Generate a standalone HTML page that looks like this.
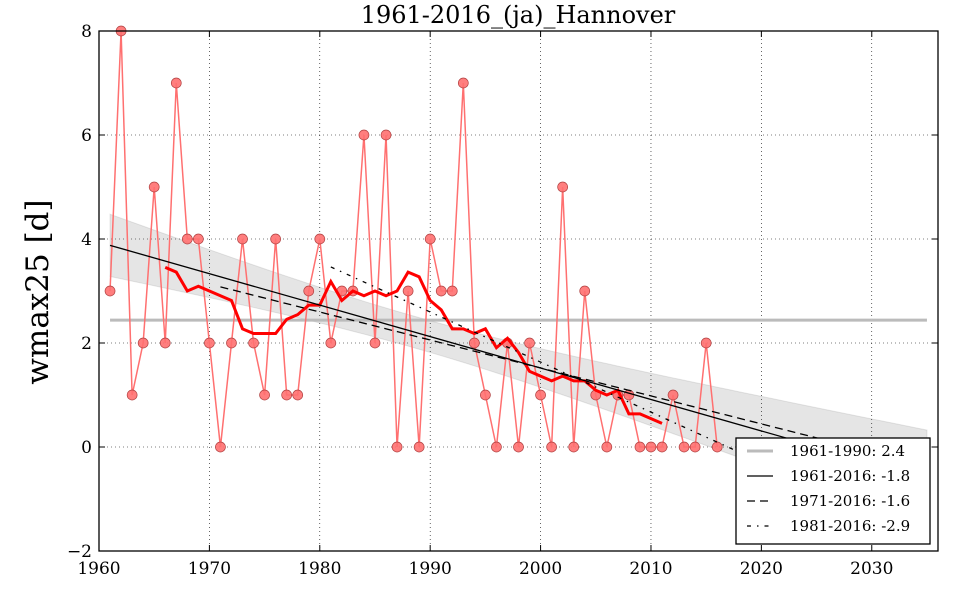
<!DOCTYPE html><html><head><style>body{margin:0;background:#fff}svg{display:block;font-family:"DejaVu Serif","Liberation Serif",serif}</style></head><body>
<svg id="s" width="960" height="600" xmlns="http://www.w3.org/2000/svg"></svg>
<script>
const X0=99,X1=938,Y0=31,Y1=551;
const sx=y=>X0+(y-1960)*(X1-X0)/76, sy=v=>447-v*52;
const d=[3,8,1,2,5,2,7,4,4,2,0,2,4,2,1,4,1,1,3,4,2,3,3,6,2,6,0,3,0,4,3,3,7,2,1,0,2,0,2,1,0,5,0,3,1,0,1,1,0,0,0,1,0,0,2,0];
const yr=d.map((_,i)=>1961+i);
let h='';
h+='<rect x="'+X0+'" y="'+Y0+'" width="'+(X1-X0)+'" height="'+(Y1-Y0)+'" fill="#fff"/>';
function reg(a){const xs=[],ys=[];yr.forEach((y,i)=>{if(y>=a){xs.push(y);ys.push(d[i]);}});const n=xs.length,mx=xs.reduce((p,c)=>p+c)/n,my=ys.reduce((p,c)=>p+c)/n;let sxy=0,sxx=0;xs.forEach((x,i)=>{sxy+=(x-mx)*(ys[i]-my);sxx+=(x-mx)**2});const b=sxy/sxx;return{b,a:my-b*mx,mx,sxx,n};}
const r=reg(1961);let up=[],lo=[];
for(let x=1961;x<=2035;x+=1){const f=r.a+r.b*x,hw=2.27*Math.sqrt(1/r.n+(x-r.mx)**2/r.sxx);up.push(sx(x)+','+sy(f+hw));lo.unshift(sx(x)+','+sy(f-hw));}
h+='<polygon points="'+up.join(' ')+' '+lo.join(' ')+'" fill="#000" fill-opacity="0.1" stroke="#888" stroke-opacity="0.2"/>';
for(let x=1970;x<=2030;x+=10)h+='<line x1="'+sx(x)+'" x2="'+sx(x)+'" y1="'+Y0+'" y2="'+Y1+'" stroke="#000" stroke-dasharray="1,3" stroke-width="0.6"/>';
for(let v=0;v<=6;v+=2)h+='<line x1="'+X0+'" x2="'+X1+'" y1="'+sy(v)+'" y2="'+sy(v)+'" stroke="#000" stroke-dasharray="1,3" stroke-width="0.6"/>';
h+='<line x1="'+sx(1961)+'" x2="'+sx(2035)+'" y1="'+sy(2.44)+'" y2="'+sy(2.44)+'" stroke="#bbb" stroke-width="3"/>';
h+='<polyline fill="none" stroke="#ff7070" stroke-width="1.5" points="'+d.map((v,i)=>sx(yr[i])+','+sy(v)).join(' ')+'"/>';
d.forEach((v,i)=>h+='<circle cx="'+sx(yr[i])+'" cy="'+sy(v)+'" r="5" fill="#ff7070" stroke="#b04040" stroke-width="0.7" fill-opacity="0.9"/>');
let ma=[];for(let i=5;i<d.length-5;i++){let s=0;for(let j=i-5;j<=i+5;j++)s+=d[j];ma.push(sx(yr[i])+','+sy(s/11));}
h+='<polyline fill="none" stroke="#f00" stroke-width="3" points="'+ma.join(' ')+'"/>';
const DA=['','8,5','4,6,1.5,6'];
[1961,1971,1981].forEach((a,k)=>{const q=reg(a);const e=2035;h+='<line x1="'+sx(a)+'" y1="'+sy(q.a+q.b*a)+'" x2="'+sx(e)+'" y2="'+sy(q.a+q.b*e)+'" stroke="#000" stroke-width="1.3" '+(DA[k]?'stroke-dasharray="'+DA[k]+'"':'')+'/>';});
let t='';
for(let x=1960;x<=2030;x+=10){t+='<line x1="'+sx(x)+'" x2="'+sx(x)+'" y1="'+Y1+'" y2="'+(Y1-6)+'" stroke="#000"/><line x1="'+sx(x)+'" x2="'+sx(x)+'" y1="'+Y0+'" y2="'+(Y0+6)+'" stroke="#000"/><text x="'+sx(x)+'" y="574" text-anchor="middle" font-size="17">'+x+'</text>';}
for(let v=-2;v<=8;v+=2){t+='<line x1="'+X0+'" x2="'+(X0+6)+'" y1="'+sy(v)+'" y2="'+sy(v)+'" stroke="#000"/><line x1="'+X1+'" x2="'+(X1-6)+'" y1="'+sy(v)+'" y2="'+sy(v)+'" stroke="#000"/><text x="92" y="'+(sy(v)+6)+'" text-anchor="end" font-size="17">'+(v<0?'\u2212'+(-v):v)+'</text>';}
h+='<rect x="'+X0+'" y="'+Y0+'" width="'+(X1-X0)+'" height="'+(Y1-Y0)+'" fill="none" stroke="#000" stroke-width="1.3"/>'+t;
h+='<text x="518" y="23" text-anchor="middle" font-size="24">1961-2016_(ja)_Hannover</text>';
h+='<text transform="translate(48,292) rotate(-90)" text-anchor="middle" font-size="31">wmax25 [d]</text>';
h+='<rect x="736" y="438" width="194" height="106" fill="#fff" stroke="#000" stroke-width="1.3"/>';
const L=[['1961-1990: 2.4','#bbb',3,''],['1961-2016: -1.8','#000',1.3,''],['1971-2016: -1.6','#000',1.3,'8,5'],['1981-2016: -2.9','#000',1.3,'4,6,1.5,6']];
L.forEach((l,i)=>{const y=451+i*25;h+='<line x1="747" x2="773" y1="'+y+'" y2="'+y+'" stroke="'+l[1]+'" stroke-width="'+l[2]+'" '+(l[3]?'stroke-dasharray="'+l[3]+'"':'')+'/><text x="790" y="'+(y+5)+'" font-size="15">'+l[0]+'</text>';});
document.getElementById('s').innerHTML=h;
</script></body></html>
